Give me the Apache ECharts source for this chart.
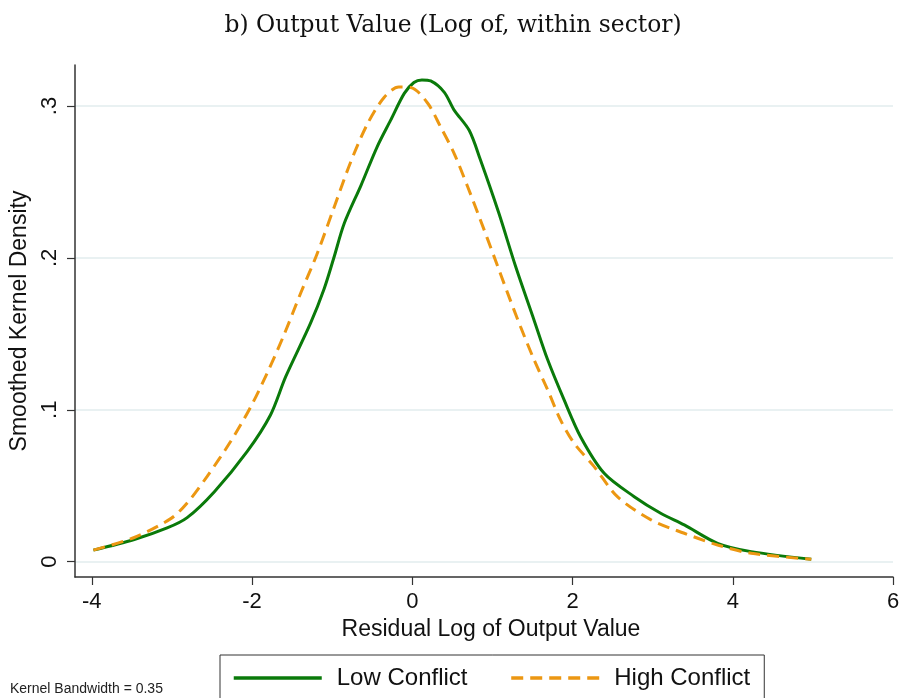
<!DOCTYPE html>
<html>
<head>
<meta charset="utf-8">
<script src="https://cdn.jsdelivr.net/npm/echarts@6/dist/echarts.min.js"></script>
<style>
  html, body { margin: 0; padding: 0; background: #fff; }
  #chart { width: 906px; height: 698px; }
</style>
</head>
<body>
<div id="chart"></div>
<script>
// kernel density curves
var lowX = [-3.98, -3.47, -3.06, -2.81, -2.47, -2.06, -1.77, -1.58, -1.27, -1.10, -0.98, -0.85, -0.64, -0.44, -0.27, -0.10,
    0.02, 0.12, 0.23, 0.40, 0.52, 0.71, 0.85, 1.08, 1.29, 1.52, 1.69, 1.895, 2.10, 2.395, 2.77, 3.10, 3.395, 3.81, 4.23, 4.98];
var lowY = [0.0076, 0.0146, 0.0222, 0.029, 0.0461, 0.0726, 0.0966, 0.1218, 0.157, 0.1797, 0.1999, 0.2226, 0.2478, 0.273, 0.2907, 0.3083,
    0.3155, 0.3172, 0.3165, 0.309, 0.2975, 0.284, 0.2646, 0.2295, 0.1943, 0.159, 0.1329, 0.1065, 0.0823, 0.0582, 0.0428, 0.0319, 0.0242, 0.0121, 0.0066, 0.0016];

var highX = [-3.98, -3.47, -3.01, -2.81, -2.56, -2.27, -2.02, -1.81, -1.60, -1.39, -1.19, -0.98, -0.77, -0.56, -0.35, -0.17,
    -0.02, 0.19, 0.35, 0.52, 0.69, 0.85, 1.02, 1.19, 1.35, 1.52, 1.69, 1.85, 2.02, 2.27, 2.56, 2.98, 3.395, 3.81, 4.23, 4.98];
var highY = [0.0076, 0.0159, 0.0285, 0.0386, 0.0562, 0.0789, 0.1016, 0.1243, 0.1495, 0.1772, 0.2024, 0.2327, 0.263, 0.2882, 0.3058, 0.3125,
    0.3122, 0.302, 0.2866, 0.269, 0.247, 0.225, 0.201, 0.1768, 0.1548, 0.1329, 0.1131, 0.0933, 0.078, 0.0626, 0.0428, 0.0275, 0.0187, 0.011, 0.0055, 0.0016];

var xTicks = [-4, -2, 0, 2, 4, 6];
var yTicks = [0, 0.1, 0.2, 0.3];
var yTickLabels = ['0', '.1', '.2', '.3'];

function zip(a, b) {
    var out = [];
    for (var i = 0; i < a.length; i++) out.push([a[i], b[i]]);
    return out;
}

var font = 'Liberation Sans, Arial, sans-serif';
var myChart = echarts.init(document.getElementById('chart'));

var option = {
    backgroundColor: '#fff',
    animation: false,
    title: {
        text: 'b) Output Value (Log of, within sector)',
        left: 'center',
        top: 9,
        textStyle: { fontFamily: 'DejaVu Serif, serif', fontWeight: 'normal', fontSize: 23.4, color: '#111' }
    },
    legend: {
        left: 220,
        top: 655,
        padding: [11, 14, 12, 12],
        itemWidth: 88,
        itemHeight: 22,
        itemGap: 42,
        borderColor: '#333',
        borderWidth: 1,
        itemStyle: { opacity: 0 },
        lineStyle: { width: 3.5 },
        textStyle: { fontFamily: font, fontSize: 24, color: '#111', padding: [0, 0, 0, 10] },
        data: ['Low Conflict', 'High Conflict']
    },
    graphic: [{
        type: 'text',
        left: 10,
        top: 682,
        style: { text: 'Kernel Bandwidth = 0.35', font: '14px ' + font, fill: '#222' }
    }],
    grid: { left: 75, top: 65, right: 13, bottom: 121 },
    xAxis: {
        type: 'value',
        min: -4.21,
        max: 6,
        name: 'Residual Log of Output Value',
        nameLocation: 'middle',
        nameGap: 39,
        nameTextStyle: { fontFamily: font, fontSize: 23, color: '#111', padding: [0, 0, 0, 14] },
        axisLine: { show: true, onZero: false, lineStyle: { color: '#333', width: 1.5 } },
        axisTick: { show: true, length: 8, lineStyle: { color: '#333', width: 1.2 }, customValues: xTicks },
        axisLabel: { fontFamily: font, fontSize: 22, color: '#111', margin: 14, customValues: xTicks },
        splitLine: { show: false }
    },
    yAxis: {
        type: 'value',
        min: -0.0101,
        max: 0.327,
        name: 'Smoothed Kernel Density',
        nameLocation: 'middle',
        nameGap: 44,
        nameTextStyle: { fontFamily: font, fontSize: 23, color: '#111' },
        axisLine: { show: true, onZero: false, lineStyle: { color: '#333', width: 1.5 } },
        axisTick: { show: true, length: 8, lineStyle: { color: '#333', width: 1.2 }, customValues: yTicks },
        axisLabel: {
            fontFamily: font, fontSize: 22, color: '#111', margin: 14, rotate: 90,
            customValues: yTicks,
            formatter: function (v) {
                var i = yTicks.indexOf(Math.round(v * 10) / 10);
                return i >= 0 ? yTickLabels[i] : '';
            }
        },
        splitLine: { show: true, lineStyle: { color: '#e9f1f2', width: 2 } }
    },
    series: [
        {
            name: 'Low Conflict',
            type: 'line',
            smooth: 0.3,
            symbol: 'none',
            lineStyle: { color: '#0a7a0a', width: 3 },
            itemStyle: { color: '#0a7a0a' },
            data: zip(lowX, lowY),
            z: 3
        },
        {
            name: 'High Conflict',
            type: 'line',
            smooth: 0.3,
            symbol: 'none',
            lineStyle: { color: '#ec9712', width: 3, type: [12, 7] },
            itemStyle: { color: '#ec9712' },
            data: zip(highX, highY),
            z: 4
        }
    ]
};

myChart.setOption(option);
</script>
</body>
</html>
